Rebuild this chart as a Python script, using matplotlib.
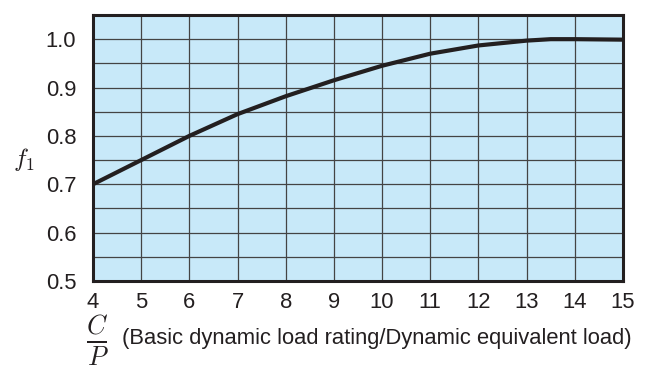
import numpy as np
import matplotlib
matplotlib.use("Agg")
import matplotlib.pyplot as plt

plt.rcParams['font.family'] = ['Liberation Sans', 'DejaVu Sans']
plt.rcParams['mathtext.fontset'] = 'cm'

# f1 factor vs C/P
cp = [4, 5, 6, 7, 8, 9, 10, 11, 12, 13, 13.5, 14, 15]
f1 = [0.70, 0.75, 0.80, 0.845, 0.882, 0.915, 0.945, 0.97, 0.987, 0.997, 1.0, 1.0, 0.999]

x_ticks = list(range(4, 16))
y_ticks = [0.5, 0.6, 0.7, 0.8, 0.9, 1.0]

fig = plt.figure(figsize=(6.48, 3.71), dpi=100)
ax = fig.add_axes([0.1435, 0.2426, 0.8179, 0.717])
ax.set_facecolor('#c8e9f9')

ax.plot(cp, f1, color='#231f20', lw=3.0, solid_capstyle='butt')

ax.set_xlim(4, 15)
ax.set_ylim(0.5, 1.05)
ax.set_xticks(x_ticks)
ax.set_yticks(y_ticks)
ax.set_yticks(np.arange(0.55, 1.05, 0.1), minor=True)
ax.set_yticklabels([f"{v:.1f}" for v in y_ticks])
ax.tick_params(axis='both', which='both', length=0, labelsize=15.8, colors='#231f20')
ax.tick_params(axis='y', pad=12)
ax.tick_params(axis='x', pad=8)

ax.grid(True, which='both', color='#444444', lw=0.9)
ax.set_axisbelow(True)
for s in ax.spines.values():
    s.set_color('#231f20')
    s.set_linewidth(2.2)

fig.text(0.036, 0.57, r'$f_1$', fontsize=18, ha='center', va='center', color='#231f20')
fig.text(0.15, 0.08, r'$\frac{C}{P}$', fontsize=27, ha='center', va='center', color='#231f20')
fig.text(0.188, 0.088, '(Basic dynamic load rating/Dynamic equivalent load)',
         fontsize=15.8, ha='left', va='center', color='#231f20')

fig.savefig('out.png', dpi=100)
